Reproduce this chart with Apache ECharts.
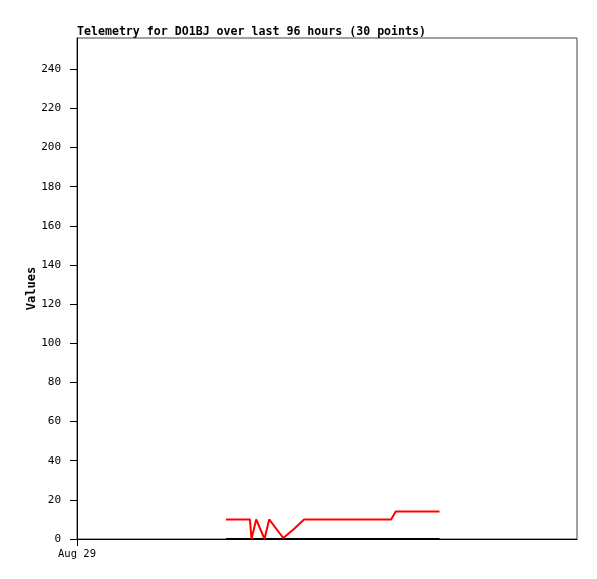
<!DOCTYPE html>
<html>
<head>
<meta charset="utf-8">
<script src="https://cdn.jsdelivr.net/npm/echarts@6/dist/echarts.min.js"></script>
<style>html,body{margin:0;padding:0;background:#fff}#c{width:597px;height:579px}</style>
</head>
<body>
<div id="c"></div>
<script>
// hours since start of the 96-hour window
var hours = [28.6, 29.8, 31.0, 32.1, 33.2, 33.5, 34.4, 36.0, 36.9, 39.6,
             41.6, 43.6, 45.1, 46.6, 48.1, 49.6, 51.1, 52.6, 54.1, 55.6,
             57.1, 58.7, 60.3, 61.2, 62.6, 64.0, 65.4, 66.8, 68.2, 69.6];
var redValues = [10, 10, 10, 10, 10, 0, 10, 0, 10, 0.5,
                 5, 10, 10, 10, 10, 10, 10, 10, 10, 10,
                 10, 10, 10, 14, 14, 14, 14, 14, 14, 14];
var blackValues = [0, 0, 0, 0, 0, 0, 0, 0, 0, 0,
                   0, 0, 0, 0, 0, 0, 0, 0, 0, 0,
                   0, 0, 0, 0, 0, 0, 0, 0, 0, 0];
var xTickValues = [0];
var xTickLabels = ['Aug 29'];
var titleText = 'Telemetry for DO1BJ over last 96 hours (30 points)';

function pairs(xs, ys) { return xs.map(function (x, i) { return [x, ys[i]]; }); }

var chart = echarts.init(document.getElementById('c'));
chart.setOption({
  animation: false,
  backgroundColor: '#fff',
  title: {
    text: titleText, left: 77, top: 26, padding: 0,
    textStyle: { fontFamily: 'DejaVu Sans Mono', fontSize: 11.6, fontWeight: 'bold', color: '#000' }
  },
  grid: { left: 77, top: 38, width: 500, height: 501, show: true, borderColor: '#444', borderWidth: 1, backgroundColor: 'transparent' },
  xAxis: {
    type: 'value', min: 0, max: 96,
    axisLine: { show: true, onZero: false, lineStyle: { color: '#000', width: 1 } },
    axisTick: { show: true, length: 7, customValues: xTickValues, lineStyle: { color: '#000' } },
    axisLabel: {
      customValues: xTickValues,
      formatter: function (v) { var i = xTickValues.indexOf(v); return i >= 0 ? xTickLabels[i] : ''; },
      fontFamily: 'DejaVu Sans Mono', fontSize: 10.5, color: '#000', margin: 10
    },
    splitLine: { show: false }
  },
  yAxis: {
    type: 'value', min: 0, max: 256, interval: 20,
    name: 'Values', nameLocation: 'middle', nameGap: 39, nameRotate: 90, nameMoveOverlap: false,
    nameTextStyle: { fontFamily: 'DejaVu Sans Mono', fontSize: 12, fontWeight: 'bold', color: '#000' },
    axisLine: { show: true, lineStyle: { color: '#000', width: 1 } },
    axisTick: { show: true, length: 7, lineStyle: { color: '#000' } },
    axisLabel: { fontFamily: 'DejaVu Sans Mono', fontSize: 11, color: '#000', margin: 16, showMaxLabel: false },
    splitLine: { show: false }
  },
  series: [
    { type: 'line', data: pairs(hours, blackValues), showSymbol: false, clip: false,
      lineStyle: { color: '#000', width: 2 }, itemStyle: { color: '#000' } },
    { type: 'line', data: pairs(hours, redValues), showSymbol: false, clip: false,
      lineStyle: { color: '#ff0000', width: 2 }, itemStyle: { color: '#ff0000' } }
  ]
});
</script>
</body>
</html>
